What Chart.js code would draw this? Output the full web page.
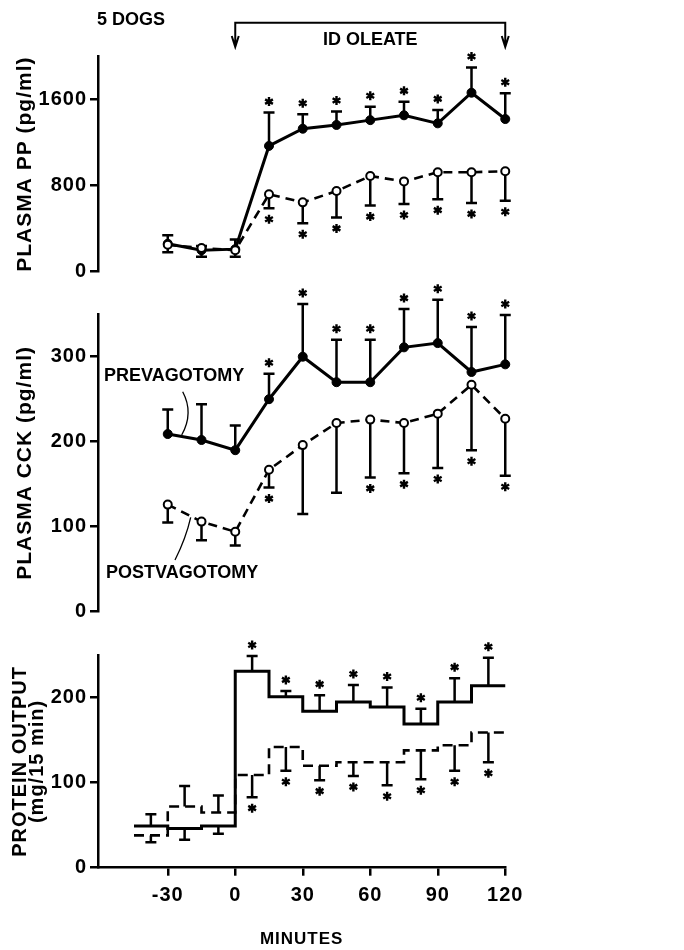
<!DOCTYPE html>
<html>
<head>
<meta charset="utf-8">
<script src="https://cdn.jsdelivr.net/npm/chart.js@4.4.1/dist/chart.umd.min.js"></script>
<style>
  body { margin: 0; background: #fff; }
  #wrap { position: relative; width: 684px; height: 950px; overflow: hidden; background: #fff; }
  canvas { position: absolute; left: 0; }
</style>
</head>
<body>
<div id="wrap">
  <canvas id="ppChart" width="684" height="300" style="top:0px"></canvas>
  <canvas id="cckChart" width="684" height="350" style="top:280px"></canvas>
  <canvas id="protChart" width="684" height="340" style="top:610px"></canvas>
</div>
<script>
// sample times (min) for plasma panels
const minutes = [-30, -15, 0, 15, 30, 45, 60, 75, 90, 105, 120];

// plasma PP (pg/ml)
const ppPre      = [260, 200, 210, 1170, 1330, 1365, 1410, 1455, 1380, 1665, 1420];
const ppPreErr   = [340, 240, 300, 1480, 1465, 1490, 1535, 1580, 1505, 1900, 1660];
const ppPreSig   = [0, 0, 0, 1, 1, 1, 1, 1, 1, 1, 1];
const ppPost     = [250, 220, 200, 720, 645, 750, 890, 840, 925, 925, 935];
const ppPostErr  = [180, 140, 140, 590, 450, 505, 615, 630, 675, 640, 660];
const ppPostSig  = [0, 0, 0, 1, 1, 1, 1, 1, 1, 1, 1];
const ppTicks    = [0, 800, 1600];

// plasma CCK (pg/ml)
const cckPre     = [209, 202, 190, 250, 300, 270, 270, 311, 316, 282, 291];
const cckPreErr  = [238, 244, 219, 280, 362, 320, 320, 356, 367, 335, 349];
const cckPreSig  = [0, 0, 0, 1, 1, 1, 1, 1, 1, 1, 1];
const cckPost    = [126, 106, 94, 167, 196, 222, 226, 222, 233, 267, 227];
const cckPostErr = [105, 84, 78, 146, 115, 140, 158, 163, 169, 190, 160];
const cckPostSig = [0, 0, 0, 1, 0, 0, 1, 1, 1, 1, 1];
const cckTicks   = [0, 100, 200, 300];

// protein output (mg/15 min), one value per 15-min period
const periodStart = [-45, -30, -15, 0, 15, 30, 45, 60, 75, 90, 105];
const periodEnd   = 120;
const periodMid   = [-37.5, -22.5, -7.5, 7.5, 22.5, 37.5, 52.5, 67.5, 82.5, 97.5, 112.5];
const protPre     = [49, 46, 49, 231, 201, 184, 195, 189, 169, 195, 214];
const protPreErr  = [63, 33, 40, 249, 208, 203, 215, 212, 187, 223, 247];
const protPreSig  = [0, 0, 0, 1, 1, 1, 1, 1, 1, 1, 1];
const protPost    = [38, 72, 65, 109, 142, 120, 124, 124, 138, 144, 159];
const protPostErr = [30, 96, 85, 83, 114, 103, 108, 97, 104, 114, 124];
const protPostSig = [0, 0, 0, 1, 1, 1, 1, 1, 1, 1, 1];
const protTicks   = [0, 100, 200];
const minuteTicks = [-30, 0, 30, 60, 90, 120];

const FONT = '"Liberation Sans", Arial, Helvetica, sans-serif';

const pts = (xs, ys) => xs.map((x, i) => ({ x: x, y: ys[i] }));
const steps = ys => periodStart.map((x, i) => ({ x: x, y: ys[i] }))
  .concat([{ x: periodEnd, y: ys[ys.length - 1] }]);

function drawStar(ctx, cx, cy, r) {
  ctx.beginPath();
  for (let k = 0; k < 3; k++) {
    const a = Math.PI / 2 + k * Math.PI / 3;
    ctx.moveTo(cx + r * Math.cos(a), cy + r * Math.sin(a));
    ctx.lineTo(cx - r * Math.cos(a), cy - r * Math.sin(a));
  }
  ctx.stroke();
}

// error bars (one-sided) with significance stars
const errorBars = {
  id: 'errorBars',
  beforeDatasetsDraw(chart) {
    const { ctx, scales: { x, y } } = chart;
    ctx.save();
    ctx.strokeStyle = '#000';
    ctx.lineCap = 'butt';
    chart.data.datasets.forEach(ds => {
      if (!ds.errEnd) return;
      ds.errEnd.forEach((e, j) => {
        const px = x.getPixelForValue(ds.errX[j]);
        const p0 = y.getPixelForValue(ds.errBase[j]);
        const p1 = y.getPixelForValue(e);
        const dir = p1 < p0 ? -1 : 1;
        ctx.lineWidth = 2.5;
        ctx.beginPath();
        ctx.moveTo(px, p0);
        ctx.lineTo(px, p1);
        ctx.moveTo(px - 5.5, p1);
        ctx.lineTo(px + 5.5, p1);
        ctx.stroke();
        if (ds.sig[j]) {
          ctx.lineWidth = 2.4;
          drawStar(ctx, px, p1 + dir * 11, 4.5);
        }
      });
    });
    ctx.restore();
  }
};

// wider tracking like the typeset original
const tracking = {
  id: 'tracking',
  beforeDraw(chart) { chart.ctx.letterSpacing = '1px'; },
  afterDraw(chart) { chart.ctx.letterSpacing = '0px'; }
};

function yAxis(min, max, ticks, title, titleOpts) {
  return {
    type: 'linear',
    min: min,
    max: max,
    afterFit: s => { s.width = 98; },
    afterBuildTicks: s => { s.ticks = ticks.map(v => ({ value: v })); },
    border: { display: true, color: '#000', width: 2.5 },
    grid: { drawOnChartArea: false, drawTicks: true, tickLength: 8, color: '#000', lineWidth: 2.5 },
    ticks: {
      color: '#000',
      padding: 3,
      font: { family: FONT, size: 20, weight: 'bold' },
      callback: v => String(v)
    },
    title: Object.assign({
      display: true,
      text: title,
      color: '#000',
      font: { family: FONT, size: 21, weight: 'bold' },
      padding: { top: 13, bottom: 0 }
    }, titleOpts || {})
  };
}

const hiddenX = { type: 'linear', min: -61, max: 120, display: false };

function baseOptions(yScale, xScale, pad) {
  return {
    responsive: false,
    animation: false,
    events: [],
    layout: { padding: pad },
    plugins: { legend: { display: false }, tooltip: { enabled: false } },
    scales: { x: xScale, y: yScale }
  };
}

function solidSet(data, extra) {
  return Object.assign({
    data: data,
    borderColor: '#000',
    borderWidth: 3,
    pointRadius: 4.5,
    pointBackgroundColor: '#000',
    pointBorderColor: '#000',
    pointBorderWidth: 1,
    clip: false
  }, extra);
}

function dashedSet(data, extra) {
  return Object.assign({
    data: data,
    borderColor: '#000',
    borderWidth: 2.6,
    borderDash: [9, 6],
    pointRadius: 4,
    pointBackgroundColor: '#fff',
    pointBorderColor: '#000',
    pointBorderWidth: 2,
    clip: false
  }, extra);
}

// ---- PLASMA PP ----
const ppNotes = {
  id: 'ppNotes',
  afterDraw(chart) {
    const { ctx, scales: { x } } = chart;
    const x0 = x.getPixelForValue(0), x1 = x.getPixelForValue(120);
    ctx.save();
    ctx.letterSpacing = '0px';
    ctx.fillStyle = '#000';
    ctx.strokeStyle = '#000';
    ctx.font = 'bold 18px ' + FONT;
    ctx.textBaseline = 'middle';
    ctx.textAlign = 'left';
    ctx.fillText('5 DOGS', 97, 20);
    ctx.textAlign = 'center';
    ctx.fillText('ID OLEATE', x.getPixelForValue(60), 40.5);
    ctx.lineWidth = 2;
    ctx.beginPath();
    ctx.moveTo(x0, 47); ctx.lineTo(x0, 22.7); ctx.lineTo(x1, 22.7); ctx.lineTo(x1, 47);
    [x0, x1].forEach(px => {
      ctx.moveTo(px - 3.5, 36); ctx.lineTo(px, 47); ctx.lineTo(px + 3.5, 36);
    });
    ctx.stroke();
    ctx.restore();
  }
};

new Chart(document.getElementById('ppChart'), {
  type: 'line',
  data: {
    datasets: [
      dashedSet(pts(minutes, ppPost), { errX: minutes, errBase: ppPost, errEnd: ppPostErr, sig: ppPostSig }),
      solidSet(pts(minutes, ppPre), { errX: minutes, errBase: ppPre, errEnd: ppPreErr, sig: ppPreSig })
    ]
  },
  options: baseOptions(yAxis(0, 2000, ppTicks, 'PLASMA PP (pg/ml)'), hiddenX,
    { left: 0, right: 178.75, top: 56.7, bottom: 28.3 }),
  plugins: [tracking, errorBars, ppNotes]
});

// ---- PLASMA CCK ----
const cckNotes = {
  id: 'cckNotes',
  afterDraw(chart) {
    const { ctx } = chart;
    ctx.save();
    ctx.letterSpacing = '0px';
    ctx.fillStyle = '#000';
    ctx.strokeStyle = '#000';
    ctx.font = 'bold 18px ' + FONT;
    ctx.textBaseline = 'middle';
    ctx.textAlign = 'left';
    ctx.fillText('PREVAGOTOMY', 104, 96.5);
    ctx.fillText('POSTVAGOTOMY', 106, 293);
    ctx.lineWidth = 1.3;
    ctx.beginPath();
    ctx.moveTo(182.7, 111.7);
    ctx.quadraticCurveTo(194, 133, 181.7, 155);
    ctx.moveTo(175, 280);
    ctx.quadraticCurveTo(186, 258, 190.7, 237.3);
    ctx.stroke();
    ctx.restore();
  }
};

new Chart(document.getElementById('cckChart'), {
  type: 'line',
  data: {
    datasets: [
      dashedSet(pts(minutes, cckPost), { errX: minutes, errBase: cckPost, errEnd: cckPostErr, sig: cckPostSig }),
      solidSet(pts(minutes, cckPre), { errX: minutes, errBase: cckPre, errEnd: cckPreErr, sig: cckPreSig })
    ]
  },
  options: baseOptions(yAxis(0, 350, cckTicks, 'PLASMA CCK (pg/ml)'), hiddenX,
    { left: 0, right: 178.75, top: 34.2, bottom: 18.3 }),
  plugins: [tracking, errorBars, cckNotes]
});

// ---- PROTEIN OUTPUT ----
new Chart(document.getElementById('protChart'), {
  type: 'line',
  data: {
    datasets: [
      {
        data: steps(protPost),
        stepped: 'before',
        borderColor: '#000',
        borderWidth: 2.6,
        borderDash: [10, 6],
        pointRadius: 0,
        clip: false,
        errX: periodMid, errBase: protPost, errEnd: protPostErr, sig: protPostSig
      },
      {
        data: steps(protPre),
        stepped: 'before',
        borderColor: '#000',
        borderWidth: 3,
        pointRadius: 0,
        clip: false,
        errX: periodMid, errBase: protPre, errEnd: protPreErr, sig: protPreSig
      }
    ]
  },
  options: baseOptions(
    yAxis(0, 250, protTicks, ['PROTEIN OUTPUT', '(mg/15 min)'],
      { font: { family: FONT, size: 20, weight: 'bold', lineHeight: 0.85 }, padding: { top: 12, bottom: 0 } }),
    {
      type: 'linear',
      min: -61,
      max: 120,
      afterFit: s => { s.height = 82.3; },
      afterBuildTicks: s => { s.ticks = minuteTicks.map(v => ({ value: v })); },
      border: { display: true, color: '#000', width: 2.5 },
      grid: { drawOnChartArea: false, drawTicks: true, tickLength: 8, color: '#000', lineWidth: 2.5 },
      ticks: {
        color: '#000',
        padding: 8,
        maxRotation: 0,
        font: { family: FONT, size: 20, weight: 'bold' },
        callback: v => String(v)
      },
      title: {
        display: true,
        text: 'MINUTES',
        color: '#000',
        font: { family: FONT, size: 17, weight: 'bold' },
        padding: { top: 0, bottom: 0 }
      }
    },
    { left: 0, right: 178.75, top: 45.2, bottom: 0 }),
  plugins: [tracking, errorBars]
});
</script>
</body>
</html>
